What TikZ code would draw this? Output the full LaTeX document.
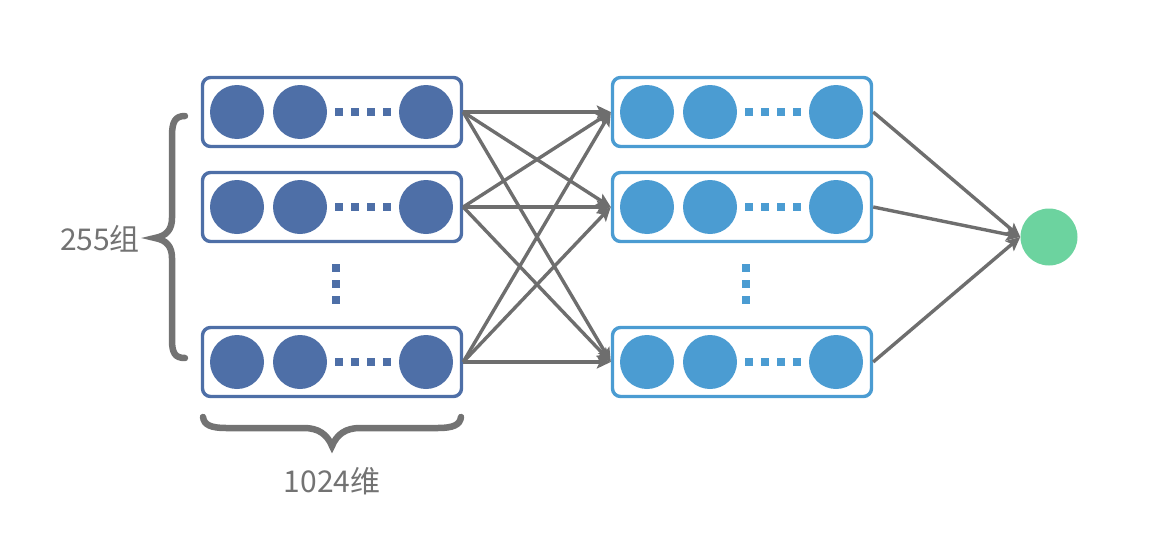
\documentclass[tikz,border=0pt]{standalone}
\usepackage{fontspec}
\setmainfont{Noto Sans CJK SC}
\usetikzlibrary{arrows.meta,calc}
\definecolor{ldark}{HTML}{4E6FA7}
\definecolor{llight}{HTML}{4B9CD2}
\definecolor{outg}{HTML}{6CD39F}
\definecolor{arrg}{HTML}{6E6E6E}
\definecolor{txtg}{HTML}{737373}
\tikzset{
  grpbox/.style={draw=#1, line width=3.4pt, rounded corners=8pt, minimum width=259pt, minimum height=69pt, inner sep=0pt, fill=white},
  unit/.style={circle, fill=#1, minimum size=54pt, inner sep=0pt},
  sq/.style={fill=#1, minimum size=8pt, inner sep=0pt},
  conn/.style={draw=arrg, line width=3.4pt, -{Stealth[length=14pt,width=13pt,inset=3pt]}},
  bracestyle/.style={draw=txtg, line width=6.5pt, line cap=round},
  lbl/.style={text=txtg, font=\fontsize{30pt}{34pt}\selectfont, inner sep=0pt}
}
\newcommand{\mkgroup}[4]{% name, x, y, color
  \node[grpbox=#4] (#1) at (#2,#3) {};
  \node[unit=#4] (#1a) at ($(#1.center)+(-95,0)$) {};
  \node[unit=#4] (#1b) at ($(#1.center)+(-32,0)$) {};
  \node[unit=#4] (#1c) at ($(#1.center)+(94,0)$) {};
  \foreach \k [count=\i] in {7,23,39,55} {\node[sq=#4] (#1d\i) at ($(#1.center)+(\k,0)$) {};}
}
\begin{document}
\begin{tikzpicture}[x=1pt,y=-1pt]
\useasboundingbox (0,0) rectangle (1149,546);
% left groups
\mkgroup{L1}{332}{112}{ldark}
\mkgroup{L2}{332}{207}{ldark}
\mkgroup{L3}{332}{362}{ldark}
% right groups
\mkgroup{R1}{742}{112}{llight}
\mkgroup{R2}{742}{207}{llight}
\mkgroup{R3}{742}{362}{llight}
% vertical dots
\foreach \yy [count=\i] in {268,284,300} {
  \node[sq=ldark] (lv\i) at (336,\yy) {};
  \node[sq=llight] (rv\i) at (746,\yy) {};
}
% output
\node[unit=outg, minimum size=57pt] (G) at (1049,237) {};
% connections
\foreach \a in {L1,L2,L3} {
  \foreach \b in {R1,R2,R3} {
    \draw[conn] (\a.east) -- (\b.west);
  }
}
\foreach \b in {R1,R2,R3} {
  \draw[conn] (\b.east) -- (G.west);
}
% braces
\draw[bracestyle] (185,116) .. controls (175,116) and (172,122) .. (172,136) -- (172,218) .. controls (172,230) and (166,236) .. (155,238) .. controls (166,240) and (172,246) .. (172,258) -- (172,340) .. controls (172,353) and (175,358) .. (185,358);
\draw[bracestyle] (203,417) .. controls (204,425) and (211,428) .. (226,428) -- (304,428) .. controls (318,428) and (327,434) .. (332,446) .. controls (337,434) and (346,428) .. (360,428) -- (438,428) .. controls (453,428) and (460,425) .. (461,417);
% labels
\node[lbl] (t255) at (100,239) {255组};
\node[lbl] (t1024) at (332,481) {1024维};
\end{tikzpicture}
\end{document}
